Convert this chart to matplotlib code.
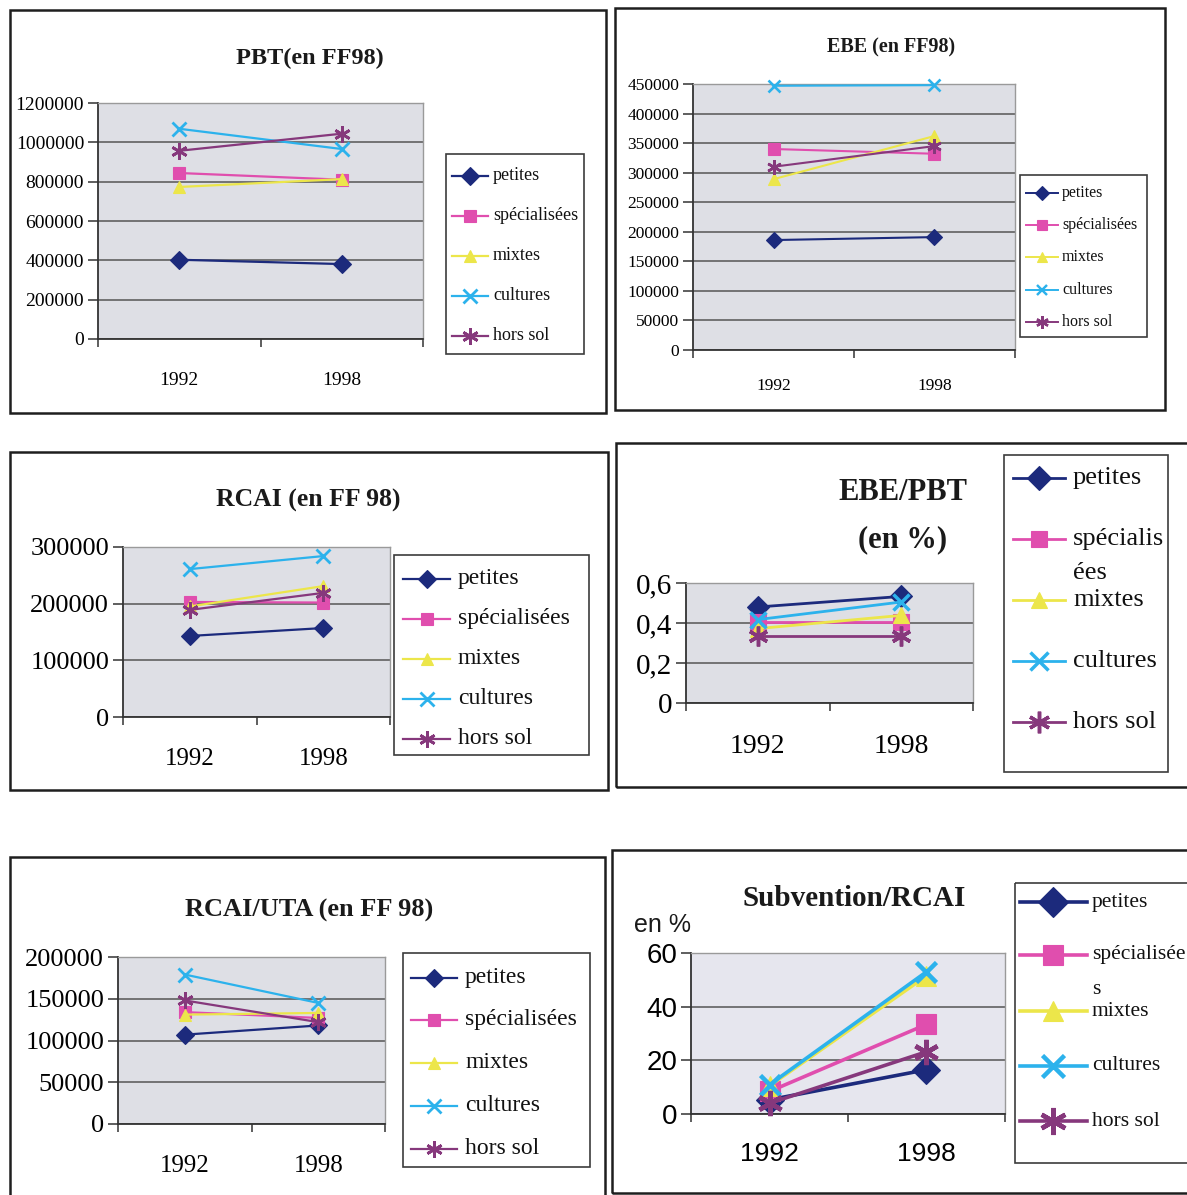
import matplotlib
matplotlib.use("Agg")
import matplotlib.pyplot as plt
from matplotlib.patches import Rectangle

# ---------------------------------------------------------------- data
years = ["1992", "1998"]
groups = ["petites", "spécialisées", "mixtes", "cultures", "hors sol"]

# PBT (en FF98)
pbt_petites = [403000, 381000]
pbt_specialisees = [844000, 810000]
pbt_mixtes = [773000, 813000]
pbt_cultures = [1069000, 966000]
pbt_hors_sol = [957000, 1044000]

# EBE (en FF98)
ebe_petites = [186000, 191000]
ebe_specialisees = [340000, 332000]
ebe_mixtes = [289000, 362000]
ebe_cultures = [447000, 448000]
ebe_hors_sol = [310000, 345000]

# RCAI (en FF 98)
rcai_petites = [143000, 157000]
rcai_specialisees = [203000, 202000]
rcai_mixtes = [195000, 231000]
rcai_cultures = [261000, 284000]
rcai_hors_sol = [189000, 219000]

# EBE/PBT
ratio_petites = [0.48, 0.533]
ratio_specialisees = [0.405, 0.405]
ratio_mixtes = [0.372, 0.438]
ratio_cultures = [0.417, 0.505]
ratio_hors_sol = [0.333, 0.333]

# RCAI/UTA (en FF 98)
uta_petites = [107000, 118000]
uta_specialisees = [134000, 127000]
uta_mixtes = [131000, 133000]
uta_cultures = [179000, 145000]
uta_hors_sol = [148000, 122000]

# Subvention/RCAI (en %)
sub_petites = [5.3, 16.5]
sub_specialisees = [8.4, 33.4]
sub_mixtes = [10.5, 51.5]
sub_cultures = [10.9, 53.0]
sub_hors_sol = [4.0, 23.2]

pbt_ticks = [0, 200000, 400000, 600000, 800000, 1000000, 1200000]
ebe_ticks = [0, 50000, 100000, 150000, 200000, 250000, 300000, 350000, 400000, 450000]
rcai_ticks = [0, 100000, 200000, 300000]
ratio_ticks = [0, 0.2, 0.4, 0.6]
ratio_tick_labels = ["0", "0,2", "0,4", "0,6"]
uta_ticks = [0, 50000, 100000, 150000, 200000]
sub_ticks = [0, 20, 40, 60]

# ---------------------------------------------------------------- style
colors = ["#1c2a7c", "#e04eae", "#ece64a", "#2cb2ec", "#86387c"]
markers = ["D", "s", "^", "x", (6, 2, 0)]
size_factor = [1.0, 1.0, 1.0, 1.05, 1.3]
SERIF = "Liberation Serif"
SANS = "Liberation Sans"

W, H = 1187, 1195
fig = plt.figure(figsize=(W / 100, H / 100), dpi=100)
fig.patch.set_facecolor("white")


def fx(x):
    return x / W


def fy(y):
    return 1 - y / H


def frame(x0, y0, x1, y1):
    fig.patches.append(Rectangle((fx(x0), fy(y1)), (x1 - x0) / W, (y1 - y0) / H,
                                 transform=fig.transFigure, fill=False,
                                 edgecolor="#1e1e1e", lw=1.8))


def marker_kw(i, ms, lw):
    kw = dict(marker=markers[i], markersize=ms * size_factor[i], color=colors[i],
              markerfacecolor=colors[i], markeredgecolor=colors[i])
    if markers[i] == "x" or isinstance(markers[i], tuple):
        kw["markeredgewidth"] = lw * 1.25
    else:
        kw["markeredgewidth"] = 0.8
    return kw


def panel(box, series, ymax, ticks, tick_labels, tick_size, xlab_size, font,
          ms, lw, xpad, bg="#dedfe5"):
    x0, y0, x1, y1 = box
    ax = fig.add_axes([fx(x0), fy(y1), (x1 - x0) / W, (y1 - y0) / H])
    ax.set_facecolor(bg)
    ax.set_xlim(0, 2)
    ax.set_ylim(0, ymax)
    xs = [0.5, 1.5]
    for i, vals in enumerate(series):
        ax.plot(xs, vals, lw=lw, clip_on=False, zorder=3 + i * 0.1,
                **marker_kw(i, ms, lw))
    ax.set_yticks(ticks)
    ax.set_yticklabels(tick_labels, fontfamily=font, fontsize=tick_size)
    ax.set_xticks(xs)
    ax.set_xticklabels(years, fontfamily=font, fontsize=xlab_size)
    ax.set_xticks([0, 1, 2], minor=True)
    ax.tick_params(axis="x", which="major", length=0, pad=xpad)
    ax.tick_params(axis="x", which="minor", length=6, width=1.1,
                   color="#333333", direction="out")
    ax.tick_params(axis="y", length=7, width=1.1, color="#333333",
                   direction="out", pad=3)
    ax.yaxis.grid(True, color="#555555", lw=1.1)
    ax.set_axisbelow(True)
    for s in ("left", "bottom"):
        ax.spines[s].set_color("#333333")
        ax.spines[s].set_linewidth(1.3)
    for s in ("top", "right"):
        ax.spines[s].set_color("#9a9a9a")
        ax.spines[s].set_linewidth(1.0)
    return ax


def legend_box(box, rows, labels, font, size, hx0, hx1, tx, ms, lw,
               extra=None, extra_dy=0):
    x0, y0, x1, y1 = box
    lax = fig.add_axes([fx(x0), fy(y1), (x1 - x0) / W, (y1 - y0) / H])
    lax.set_xlim(x0, x1)
    lax.set_ylim(y1, y0)
    lax.axis("off")
    lax.add_patch(Rectangle((x0, y0), x1 - x0, y1 - y0, fill=False,
                            edgecolor="#3c3c3c", lw=1.2, clip_on=False))
    for i, (ry, lab) in enumerate(zip(rows, labels)):
        lax.plot([hx0, hx1], [ry, ry], color=colors[i], lw=lw, clip_on=False)
        lax.plot([(hx0 + hx1) / 2], [ry], lw=0, clip_on=False,
                 **marker_kw(i, ms, lw))
        lax.text(tx, ry, lab, fontfamily=font, fontsize=size, va="center",
                 ha="left", color="#111111", clip_on=False)
    if extra is not None:
        idx, txt = extra
        lax.text(tx, rows[idx] + extra_dy, txt, fontfamily=font, fontsize=size,
                 va="center", ha="left", color="#111111", clip_on=False)
    return lax


def title(x, y, txt, size, font=SERIF, weight="bold"):
    fig.text(fx(x), fy(y), txt, fontfamily=font, fontsize=size,
             fontweight=weight, ha="center", va="center", color="#1a1a1a")


def fmt(v):
    return f"{int(v)}"


# ---------------------------------------------------------------- PBT
frame(10, 10, 606, 413)
title(310, 58, "PBT(en FF98)", 17.5)
panel((98, 103, 423, 339),
      [pbt_petites, pbt_specialisees, pbt_mixtes, pbt_cultures, pbt_hors_sol],
      1200000, pbt_ticks, [fmt(t) for t in pbt_ticks], 14, 14, SERIF,
      ms=9, lw=1.6, xpad=24)
legend_box((446, 154, 584, 354), [176, 216, 256, 296, 336], groups, SERIF, 13,
           452, 488, 493, ms=9, lw=1.6)

# ---------------------------------------------------------------- EBE
frame(615, 8, 1165, 410)
title(891, 47, "EBE (en FF98)", 14.5)
panel((693, 84, 1015, 350),
      [ebe_petites, ebe_specialisees, ebe_mixtes, ebe_cultures, ebe_hors_sol],
      450000, ebe_ticks, [fmt(t) for t in ebe_ticks], 12.5, 12.5, SERIF,
      ms=8, lw=1.5, xpad=20)
legend_box((1020, 175, 1147, 337), [193, 225, 257, 290, 322], groups, SERIF,
           11.5, 1026, 1058, 1062, ms=7, lw=1.4)

# ---------------------------------------------------------------- RCAI
frame(10, 452, 608, 790)
title(308, 500, "RCAI (en FF 98)", 18.5)
panel((123, 547, 390, 717),
      [rcai_petites, rcai_specialisees, rcai_mixtes, rcai_cultures, rcai_hors_sol],
      300000, rcai_ticks, [fmt(t) for t in rcai_ticks], 19, 18, SERIF,
      ms=9, lw=1.6, xpad=22)
legend_box((394, 555, 589, 755), [579, 619, 659, 699, 739], groups, SERIF, 17,
           403, 450, 458, ms=9, lw=1.6)

# ---------------------------------------------------------------- EBE/PBT
frame(616, 443, 1195, 787)
title(903, 493, "EBE/PBT", 22)
title(903, 540, "(en %)", 22)
panel((686, 583, 973, 703),
      [ratio_petites, ratio_specialisees, ratio_mixtes, ratio_cultures, ratio_hors_sol],
      0.6, ratio_ticks, ratio_tick_labels, 21, 20, SERIF,
      ms=11, lw=2.0, xpad=22)
legend_box((1004, 455, 1168, 772), [478, 539, 600, 661, 722],
           ["petites", "spécialis", "mixtes", "cultures", "hors sol"], SERIF,
           19, 1013, 1065, 1073, ms=12, lw=2.0, extra=(1, "ées"), extra_dy=34)

# ---------------------------------------------------------------- RCAI/UTA
frame(10, 857, 605, 1200)
title(309, 910, "RCAI/UTA (en FF 98)", 19)
panel((118, 957, 385, 1124),
      [uta_petites, uta_specialisees, uta_mixtes, uta_cultures, uta_hors_sol],
      200000, uta_ticks, [fmt(t) for t in uta_ticks], 19, 18, SERIF,
      ms=9, lw=1.6, xpad=22)
legend_box((403, 953, 590, 1167), [978, 1020, 1063, 1106, 1149], groups, SERIF,
           17, 411, 457, 465, ms=9, lw=1.6)

# ---------------------------------------------------------------- Subvention/RCAI
frame(612, 850, 1200, 1193)
title(854, 898, "Subvention/RCAI", 21)
fig.text(fx(662), fy(925), "en %", fontfamily=SANS, fontsize=18,
         ha="center", va="center", color="#1a1a1a")
panel((691, 953, 1005, 1114),
      [sub_petites, sub_specialisees, sub_mixtes, sub_cultures, sub_hors_sol],
      60, sub_ticks, [fmt(t) for t in sub_ticks], 20, 19, SANS,
      ms=14, lw=2.6, xpad=20, bg="#e6e6ee")
legend_box((1015, 883, 1200, 1163), [902, 955, 1011, 1066, 1121],
           ["petites", "spécialisée", "mixtes", "cultures", "hors sol"], SERIF,
           15.5, 1020, 1087, 1092, ms=15, lw=2.6, extra=(1, "s"), extra_dy=34)

fig.savefig("out.png", dpi=100)
